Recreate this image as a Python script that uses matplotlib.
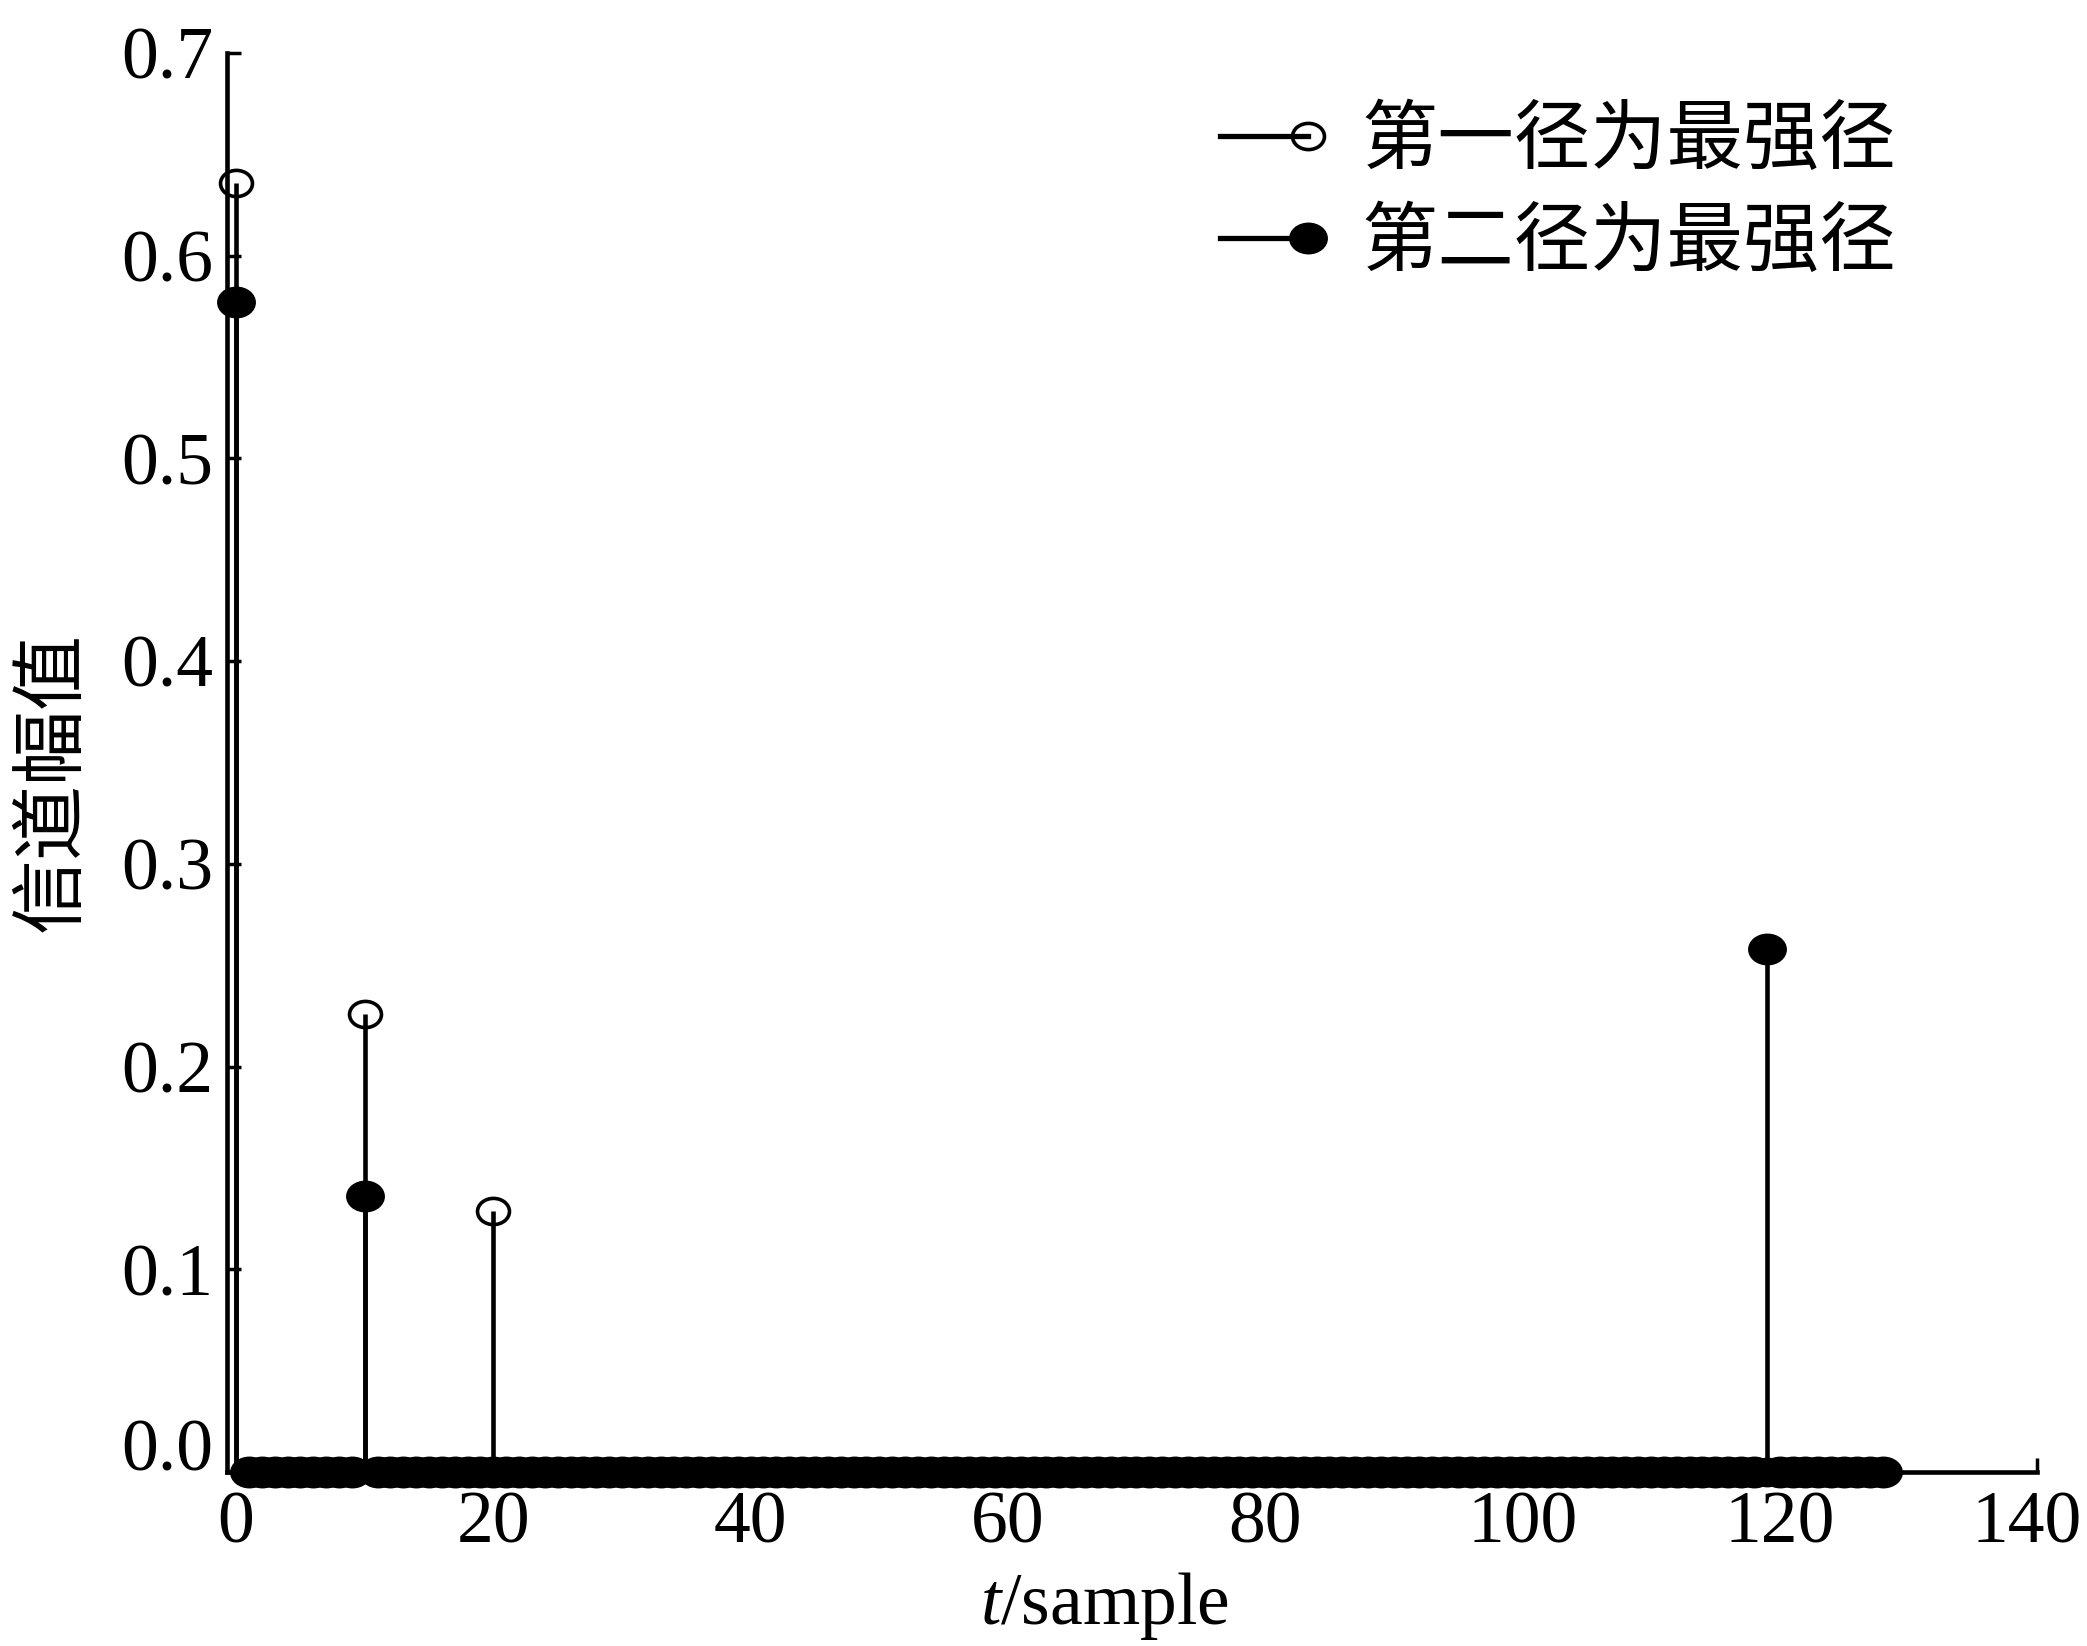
import numpy as np
import matplotlib
matplotlib.use("Agg")
import matplotlib.pyplot as plt
import matplotlib.transforms as mtrans
from matplotlib.path import Path
from matplotlib.lines import Line2D
from matplotlib.legend_handler import HandlerLine2DCompound

# ---------------- data ----------------
n_samples = 129                      # t = 0 .. 128
path1_idx = [0, 10, 20]              # first path strongest
path1_amp = [0.636, 0.226, 0.129]
path2_idx = [0, 10, 119]             # second path strongest
path2_amp = [0.577, 0.136, 0.258]
series_labels = ["第一径为最强径", "第二径为最强径"]
x_ticks = [0, 20, 40, 60, 80, 100, 120, 140]
y_ticks = [0.0, 0.1, 0.2, 0.3, 0.4, 0.5, 0.6, 0.7]
y_tick_labels = ["0.0", "0.1", "0.2", "0.3", "0.4", "0.5", "0.6", "0.7"]
x_label = "$t$/sample"
y_label = "信道幅值"

t = np.arange(n_samples)
h1 = np.zeros(n_samples)
h1[path1_idx] = path1_amp
h2 = np.zeros(n_samples)
h2[path2_idx] = path2_amp

# ---------------- style ----------------
plt.rcParams['font.family'] = ['Liberation Serif', 'Noto Sans CJK SC', 'DejaVu Sans']
plt.rcParams['mathtext.fontset'] = 'custom'
plt.rcParams['mathtext.rm'] = 'Liberation Serif'
plt.rcParams['mathtext.it'] = 'Liberation Serif:italic'

# slightly flattened circle marker (as in the reference)
circ = Path.unit_circle()
verts = circ.vertices.copy()
verts[:, 1] *= 0.82
ell = Path(verts, circ.codes)

OPEN_MS, OPEN_MEW = 23, 2.6
FILL_MS = 28
lw = 3.3

fig = plt.figure(figsize=(20.87, 16.46), dpi=100)
ax = fig.add_axes([0.1088, 0.1057, 0.976 - 0.1088, 0.9678 - 0.1057])

m1, s1, b1 = ax.stem(t, h1, linefmt='k-', markerfmt='ko', basefmt=' ')
m1.set_marker(ell)
m1.set_markerfacecolor('none')
m1.set_markeredgecolor('k')
m1.set_markersize(OPEN_MS)
m1.set_markeredgewidth(OPEN_MEW)
s1.set_linewidth(lw)
m1.set_clip_on(False)

m2, s2, b2 = ax.stem(t, h2, linefmt='k-', markerfmt='ko', basefmt=' ')
m2.set_marker(ell)
m2.set_markerfacecolor('k')
m2.set_markeredgecolor('k')
m2.set_markersize(FILL_MS)
m2.set_markeredgewidth(0)
s2.set_linewidth(lw)
m2.set_clip_on(False)

ax.set_xlim(-0.7, 140)
ax.set_ylim(0, 0.7)

for sp in ['top', 'right']:
    ax.spines[sp].set_visible(False)
for sp in ['left', 'bottom']:
    ax.spines[sp].set_linewidth(lw)
    ax.spines[sp].set_capstyle('projecting')

ax.set_xticks(x_ticks)
ax.set_xticklabels([str(v) for v in x_ticks])
ax.set_yticks(y_ticks)
ax.set_yticklabels(y_tick_labels)
ax.tick_params(axis='both', direction='in', length=10, width=2.5, labelsize=53)
ax.tick_params(axis='x', pad=14)
ax.tick_params(axis='y', pad=10)

ax.set_xlabel(x_label, fontsize=53)
ax.xaxis.set_label_coords(0.485, -0.069)
ax.xaxis.label.set_va('top')
ax.set_ylabel(y_label, fontsize=54, family=['Noto Sans CJK SC', 'DejaVu Sans'])
ax.yaxis.label.set_va('center')
ax.yaxis.set_label_coords(-0.0967, 0.486)

# raise the "0.0" label as in the reference
lab0 = ax.yaxis.get_major_ticks()[0].label1
lab0.set_transform(lab0.get_transform() +
                   mtrans.ScaledTranslation(0, 0.27, fig.dpi_scale_trans))
# keep the "140" label inside the picture
labx = ax.xaxis.get_major_ticks()[-1].label1
labx.set_transform(labx.get_transform() +
                   mtrans.ScaledTranslation(-0.10, 0, fig.dpi_scale_trans))


class EndMarkerHandler(HandlerLine2DCompound):
    def get_xdata(self, legend, xdescent, ydescent, width, height, fontsize):
        xdata = np.array([-xdescent, -xdescent + width])
        xdata_marker = np.array([-xdescent + width])
        return xdata, xdata_marker


h_open = Line2D([], [], color='k', lw=3.8, marker=ell, markersize=OPEN_MS,
                markerfacecolor='none', markeredgecolor='k',
                markeredgewidth=OPEN_MEW)
h_fill = Line2D([], [], color='k', lw=3.8, marker=ell, markersize=FILL_MS,
                markerfacecolor='k', markeredgecolor='k', markeredgewidth=0)
leg = ax.legend([h_open, h_fill], series_labels,
                handler_map={Line2D: EndMarkerHandler()},
                loc='upper left', bbox_to_anchor=(0.570, 0.957),
                bbox_transform=fig.transFigure,
                frameon=False, handlelength=1.15,
                handletextpad=0.7, labelspacing=0.29, borderaxespad=0,
                prop={'family': ['Noto Sans CJK SC', 'DejaVu Sans'], 'size': 55})

fig.savefig("out.png", dpi=100)
